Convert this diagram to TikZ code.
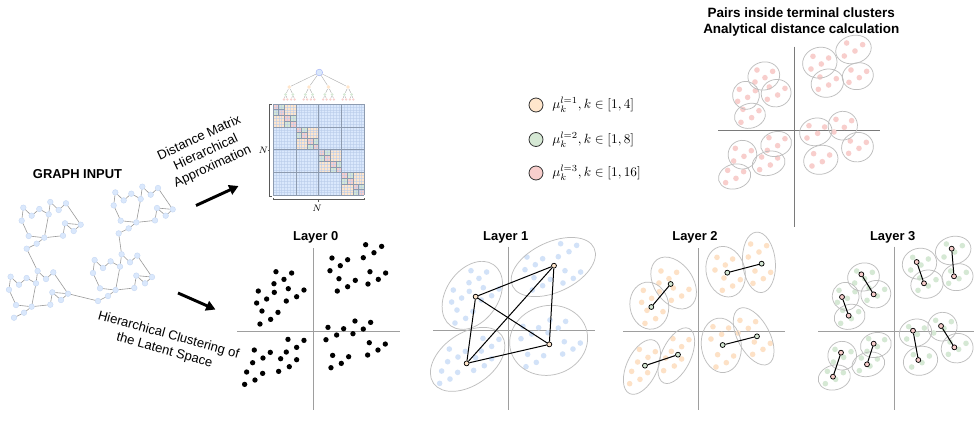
\documentclass[tikz,border=0pt]{standalone}
\usepackage{fontspec}
\newfontfamily\arialf{Liberation Sans}
\usetikzlibrary{arrows.meta}
\definecolor{cblue}{HTML}{DAE8FC}
\definecolor{cbluedot}{HTML}{D2E2F8}
\definecolor{corange}{HTML}{FFE6CC}
\definecolor{corangedot}{HTML}{FDE1C6}
\definecolor{cgreen}{HTML}{D5E8D4}
\definecolor{cpink}{HTML}{F8CECC}
\definecolor{axisgray}{HTML}{9E9E9E}
\definecolor{axisdark}{HTML}{7A7A7A}
\definecolor{ellgray}{HTML}{BEBEBE}
\definecolor{edgegray}{HTML}{9A9A9A}
\definecolor{nodeedge}{HTML}{C6D8F4}
\definecolor{gridfine}{HTML}{B9CCEA}
\definecolor{gridmajor}{HTML}{8D9BB0}

% 64 latent points, relative to the axis origin of each panel
\def\cloud{-112/-180,-65/-176,-88/-157,-118/-144,-165/-122,-117/-118,-75/-129,-28/-125,%
-140/-98,-170/-86,-81/-92,-50/-105,-154/-62,-106/-58,-128/-37,-160/-23,%
157/-261,205/-256,56/-221,103/-216,182/-237,150/-222,81/-198,50/-183,%
170/-180,217/-176,77/-159,126/-154,195/-157,164/-143,103/-135,72/-122,%
125/-32,172/-28,44/-13,91/-9,150/-8,70/10,119/6,38/24,%
168/33,216/37,194/55,58/71,106/75,163/70,84/95,53/108,%
-76/23,-28/26,-50/47,-177/55,-129/62,-81/61,-151/79,-98/81,%
-182/93,-50/84,-152/125,-104/119,-72/105,-200/121,-175/145,-206/158}

% terminal clusters: centre x / centre y / x radius / y radius
\def\leafclusters{-91.5/-162/48/42,-54.5/-110.5/45/41,-145/-104/40/42,-133/-42.5/47/37,%
76.5/-202/52/46,177.5/-241.5/54/42,99/-140.5/49/42,190.5/-161.5/47/40,%
64.5/5.5/49/41,145.5/-13/44/43,79.5/89.5/52/43,189.5/51.5/48/44,%
-54.5/42/47/37,-77/100/50/36,-155.5/74/43/43,-179/139.5/49/37}

\begin{document}
\begin{tikzpicture}[x=0.75pt,y=-0.75pt,
  gnode/.style={circle,fill=cblue,draw=nodeedge,line width=0.3pt,inner sep=0pt,minimum size=4.2pt},
  gedge/.style={draw=edgegray,line width=0.45pt},
  ell/.style={draw=ellgray,line width=0.55pt},
  axisline/.style={draw=axisgray,line width=0.6pt},
  axisdk/.style={draw=axisdark,line width=0.6pt},
  cent/.style={circle,draw=black,line width=0.55pt,inner sep=0pt,minimum size=3.7pt},
  link/.style={draw=black,line width=0.75pt},
  bigarrow/.style={line width=2.2pt,-{Triangle[length=7pt,width=7.5pt]}},
  ttl/.style={font=\arialf\bfseries\fontsize{9.7}{11.6}\selectfont,inner sep=0pt,anchor=base},
  lbl/.style={font=\arialf\fontsize{9.8}{11.8}\selectfont,align=center,inner sep=0pt},
  tedge/.style={draw=edgegray!80,line width=0.3pt},
  troot/.style={circle,fill=cblue,draw=nodeedge!80!blue,line width=0.3pt,inner sep=0pt,minimum size=5pt},
  torange/.style={circle,fill=corange,inner sep=0pt,minimum size=2.8pt},
  tgreen/.style={circle,fill=cgreen,inner sep=0pt,minimum size=2.3pt},
  tpink/.style={circle,fill=cpink,inner sep=0pt,minimum size=1.9pt},
  brk/.style={draw=black!65,line width=0.4pt},
  legc/.style={circle,draw=black!80,line width=0.6pt,inner sep=0pt,minimum size=10.5pt},
  fine/.style={draw=gridfine,line width=0.2pt,opacity=0.6},
  major/.style={draw=gridmajor,line width=0.4pt}]

\fill[white] (0,0) rectangle (974,429);
\useasboundingbox (0,0) rectangle (974,429);

% ---------------- input graph ----------------
\node[ttl,font=\arialf\bfseries\fontsize{9.7}{11.6}\selectfont] (gtitle) at (77.5,178.3) {GRAPH INPUT};
\foreach \m/\dx/\dy in {ul/0/0,ll/-12.7/69,ur/92/-15.3,lr/71.3/52.3}{
  \begin{scope}[shift={(\dx,\dy)}]
    \foreach \n/\a/\b in {A/23.3/207.7,B/21.7/220.7,C/31.7/215.7,D/39.3/209,E/50.3/202,F/48.7/214.3,%
      G/58.7/210,H/66/203.3,I/65/223.3,J/73.7/231,K/80.7/224.7,L/63/235.7,M/44.3/237.7,%
      N/28.7/236,O/36.7/243.7,P/26.7/248.7}
      \node[gnode] (\m\n) at (\a,\b) {};
  \end{scope}
}
\foreach \m in {ul,ll,ur,lr}
  \foreach \ea/\eb in {A/B,A/C,C/D,D/F,E/F,E/G,G/H,H/K,I/J,J/K,I/K,L/I,M/L,F/M,N/M,B/N,O/M,O/P}
    \draw[gedge] (\m\ea) -- (\m\eb);
\draw[gedge] (ulP) -- (llE);
\draw[gedge] (urP) -- (lrE);
\draw[gedge] (llK) -- (lrP);

% ---------------- arrows and captions ----------------
\coordinate (a1s) at (196,205.5);
\coordinate (a1e) at (238.5,186);
\draw[bigarrow] (a1s) -- (a1e);
\coordinate (a2s) at (178,293);
\coordinate (a2e) at (215.5,309.5);
\draw[bigarrow] (a2s) -- (a2e);
\node[lbl,rotate=25] (dmtext) at (206,152.5) {Distance Matrix\\Hierarchical\\Approximation};
\node[lbl,rotate=-15.5] (hctext) at (166.5,343) {Hierarchical Clustering of\\the Latent Space};

% ---------------- hierarchical matrix ----------------
\begin{scope}[shift={(273,104)},x=2.144pt,y=-2.144pt]
  \fill[cblue] (0,0) rectangle (32,32);
  \foreach \k in {0,8,16,24}{
    \fill[corange] (\k+4,\k) rectangle (\k+8,\k+4);
    \fill[corange] (\k,\k+4) rectangle (\k+4,\k+8);
    \foreach \h in {0,4}{
      \fill[cgreen] (\k+\h+2,\k+\h) rectangle (\k+\h+4,\k+\h+2);
      \fill[cgreen] (\k+\h,\k+\h+2) rectangle (\k+\h+2,\k+\h+4);
      \fill[cpink] (\k+\h,\k+\h) rectangle (\k+\h+2,\k+\h+2);
      \fill[cpink] (\k+\h+2,\k+\h+2) rectangle (\k+\h+4,\k+\h+4);
    }
  }
  \foreach \i in {1,...,31}{
    \draw[fine] (\i,0) -- (\i,32);
    \draw[fine] (0,\i) -- (32,\i);
  }
  \foreach \i in {0,8,16,24,32}{
    \draw[major] (\i,0) -- (\i,32);
    \draw[major] (0,\i) -- (32,\i);
  }
  \foreach \k in {0,8,16,24}{
    \draw[major] (\k+4,\k) -- (\k+4,\k+8);
    \draw[major] (\k,\k+4) -- (\k+8,\k+4);
    \foreach \h in {0,4}{
      \draw[major] (\k+\h+2,\k+\h) -- (\k+\h+2,\k+\h+4);
      \draw[major] (\k+\h,\k+\h+2) -- (\k+\h+4,\k+\h+2);
    }
  }
\end{scope}
% size brackets
\draw[brk] (271.5,104) -- (269.5,104) -- (269.5,196) -- (271.5,196);
\draw[brk] (269.5,150) -- (267.5,150);
\node[inner sep=0pt,font=\fontsize{7.5}{9}\selectfont] (nleft) at (263.3,150) {$N$};
\draw[brk] (273,197.5) -- (273,199.5) -- (364.5,199.5) -- (364.5,197.5);
\draw[brk] (318.7,199.5) -- (318.7,201.5);
\node[inner sep=0pt,font=\fontsize{7.5}{9}\selectfont] (nbottom) at (317,208) {$N$};

% cluster tree above the matrix
\node[troot] (troot) at (319.3,72.5) {};
\foreach \i/\xo in {1/289.3,2/309,3/328.5,4/348}{
  \node[torange] (to\i) at (\xo,87) {};
  \draw[tedge] (troot) -- (to\i);
  \foreach \j/\sj in {1/-1,2/1}{
    \node[tgreen] (tg\i\j) at (\xo+3.6*\sj,94.5) {};
    \draw[tedge] (to\i) -- (tg\i\j);
    \foreach \q/\sq in {1/-1,2/1}{
      \node[tpink] (tp\i\j\q) at (\xo+3.6*\sj+1.7*\sq,99.5) {};
      \draw[tedge] (tg\i\j) -- (tp\i\j\q);
    }
  }
}

% ---------------- legend ----------------
\node[legc,fill=corange] (lg1) at (536,105) {};
\node[legc,fill=cgreen] (lg2) at (536,139.5) {};
\node[legc,fill=cpink] (lg3) at (536,173) {};
\node[anchor=west,inner sep=0pt] (lt1) at (552,105) {$\mu_k^{l=1}, k \in [1,4]$};
\node[anchor=west,inner sep=0pt] (lt2) at (552,139.5) {$\mu_k^{l=2}, k \in [1,8]$};
\node[anchor=west,inner sep=0pt] (lt3) at (552,173) {$\mu_k^{l=3}, k \in [1,16]$};

% ---------------- Layer 0 ----------------
\node[ttl] (t0) at (315.8,240.5) {Layer 0};
\begin{scope}[shift={(313.3,331.7)},x=0.25pt,y=-0.25pt]
  \draw[axisline] (-228,0) -- (260,0);
  \draw[axisline] (0,-250) -- (0,235);
  \foreach \px/\py in \cloud \fill[black] (\px,\py) circle[radius=2pt];
\end{scope}

% ---------------- Layer 1 ----------------
\node[ttl] (t1) at (505.8,240.5) {Layer 1};
\begin{scope}[shift={(508.3,330.7)},x=0.25pt,y=-0.25pt]
  \draw[axisline] (-225,0) -- (260,0);
  \draw[axisline] (0,-252) -- (0,238);
  \foreach \px/\py in \cloud \fill[cbluedot] (\px,\py) circle[radius=2.1pt];
  \foreach \cx/\cy/\ra/\rb/\ang in {-108/-106/112/78/55,135/-191/135/75/25,-122/86/125/78/35,121/29/118/104/16}
    \draw[ell,rotate around={\ang:(\cx,\cy)}] (\cx,\cy) ellipse [x radius=\ra,y radius=\rb];
  \node[cent,fill=corange] (l1a) at (-98,-102) {};
  \node[cent,fill=corange] (l1b) at (137,-195) {};
  \node[cent,fill=corange] (l1c) at (123,41) {};
  \node[cent,fill=corange] (l1d) at (-125,98) {};
  \draw[link] (l1a) -- (l1b);
  \draw[link] (l1a) -- (l1c);
  \draw[link] (l1a) -- (l1d);
  \draw[link] (l1b) -- (l1c);
  \draw[link] (l1b) -- (l1d);
  \draw[link] (l1c) -- (l1d);
\end{scope}

% ---------------- Layer 2 ----------------
\node[ttl] (t2) at (695,240.5) {Layer 2};
\begin{scope}[shift={(698.3,331)},x=0.25pt,y=-0.25pt]
  \draw[axisline] (-225,0) -- (260,0);
  \draw[axisline] (0,-248) -- (0,237);
  \foreach \px/\py in \cloud \fill[corangedot] (\px,\py) circle[radius=2.1pt];
  \foreach \cx/\cy/\ra/\rb/\ang in {-147/-76/71/58/100,-74/-144/86/58/-55,82/-178/77/58/-75,182/-206/91/49/95,%
      69/43/82/60/97,166/16/94/48/-62,-169/108/88/46/65,-66/74/90/44/65}
    \draw[ell,rotate around={\ang:(\cx,\cy)}] (\cx,\cy) ellipse [x radius=\ra,y radius=\rb];
  \foreach \nm/\cx/\cy in {a/-141/-72,b/-83/-141,c/87/-175,d/190/-202,e/73/42,f/176/16,g/-160/104,h/-61/71}
    \node[cent,fill=cgreen] (l2\nm) at (\cx,\cy) {};
  \draw[link] (l2a) -- (l2b);
  \draw[link] (l2c) -- (l2d);
  \draw[link] (l2e) -- (l2f);
  \draw[link] (l2g) -- (l2h);
\end{scope}

% ---------------- Layer 3 ----------------
\node[ttl] (t3) at (892.7,240.5) {Layer 3};
\begin{scope}[shift={(894,331)},x=0.25pt,y=-0.25pt]
  \draw[axisline] (-227,0) -- (240,0);
  \draw[axisline] (0,-253) -- (0,237);
  \foreach \px/\py in \cloud \fill[cgreen] (\px,\py) circle[radius=2.1pt];
  \foreach \cx/\cy/\ra/\rb in \leafclusters
    \draw[ell,rotate around={15:(\cx,\cy)}] (\cx,\cy) ellipse [x radius=\ra,y radius=\rb];
  \foreach \nm/\cx/\cy in {a/-98/-170,b/-61/-110,c/-156/-102,d/-136/-46,e/68/-207,f/90/-143,g/173/-247,h/180/-164,%
      i/57/-1,j/73/87,k/141/-15,l/181/49,m/-61/38,n/-81/100,o/-159/65,p/-183/137}
    \node[cent,fill=cpink] (l3\nm) at (\cx,\cy) {};
  \foreach \ea/\eb in {a/b,c/d,e/f,g/h,i/j,k/l,m/n,o/p}
    \draw[link] (l3\ea) -- (l3\eb);
\end{scope}

% ---------------- terminal clusters ----------------
\node[ttl,font=\arialf\bfseries\fontsize{10.1}{12}\selectfont] (tt1) at (801.2,17.3) {Pairs inside terminal clusters};
\node[ttl,font=\arialf\bfseries\fontsize{10.1}{12}\selectfont] (tt2) at (801.3,33.3) {Analytical distance calculation};
\begin{scope}[shift={(794.3,130)},x=0.25pt,y=-0.25pt]
  \draw[axisdk] (-228,0) -- (257,0);
  \draw[axisdk] (0,-250) -- (0,290);
  \foreach \px/\py in \cloud \fill[cpink] (\px,\py) circle[radius=2.1pt];
  \foreach \cx/\cy/\ra/\rb in \leafclusters
    \draw[ell,rotate around={15:(\cx,\cy)}] (\cx,\cy) ellipse [x radius=\ra,y radius=\rb];
\end{scope}

\end{tikzpicture}
\end{document}
